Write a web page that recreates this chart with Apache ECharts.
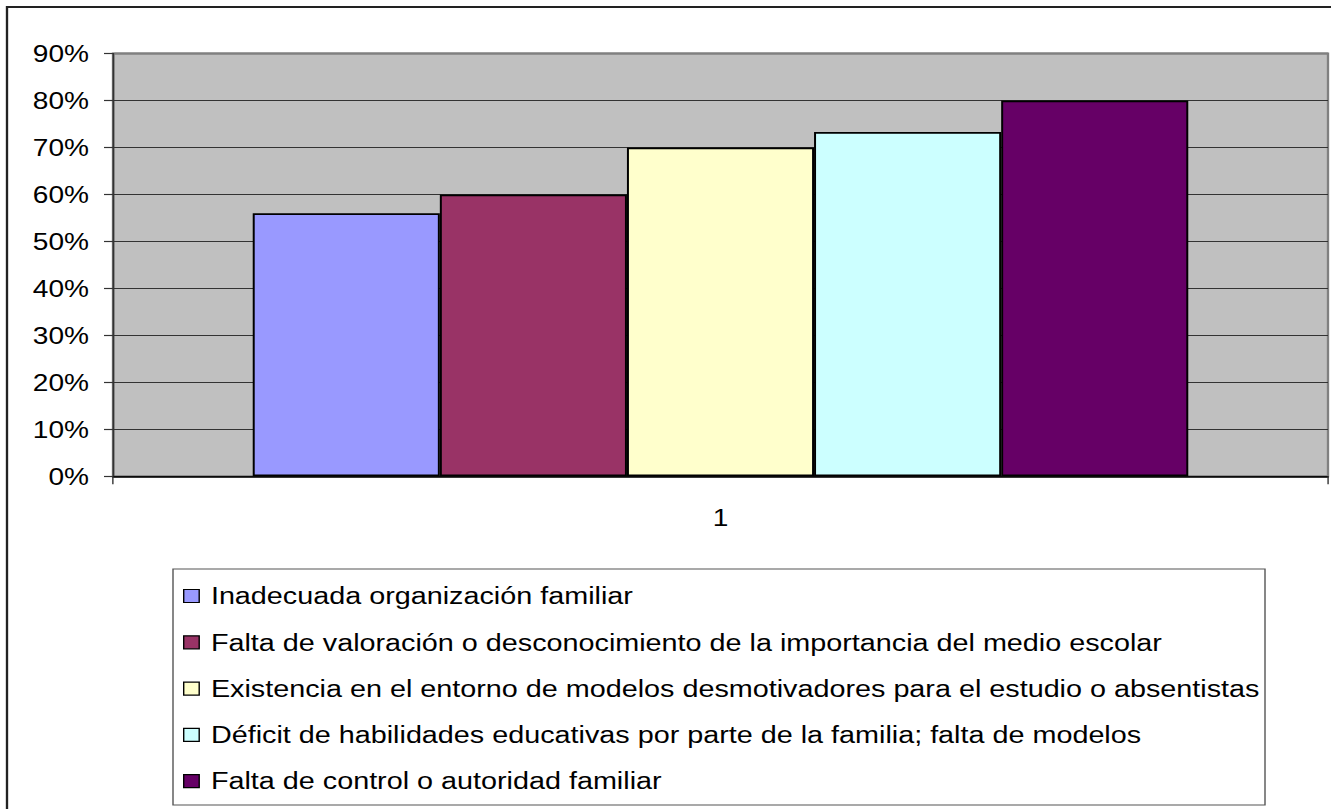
<!DOCTYPE html>
<html>
<head>
<meta charset="utf-8">
<script src="https://cdn.jsdelivr.net/npm/echarts@6/dist/echarts.min.js"></script>
<style>
html,body{margin:0;padding:0;background:#fff;overflow:hidden;}
#wrap{width:1331px;height:809px;overflow:hidden;position:relative;}
#chart{width:1138px;height:809px;transform:scaleX(1.16960);transform-origin:0 0;}
</style>
</head>
<body>
<div id="wrap"><div id="chart"></div></div>
<script>
// ---- data ----
const categories = ['1'];
const seriesNames = [
  'Inadecuada organización familiar',
  'Falta de valoración o desconocimiento de la importancia del medio escolar',
  'Existencia en el entorno de modelos desmotivadores para el estudio o absentistas',
  'Déficit de habilidades educativas por parte de la familia; falta de modelos',
  'Falta de control o autoridad familiar'
];
const seriesValues = [56, 60, 70, 73.3, 80];
const seriesColors = ['#9999FF', '#993366', '#FFFFCC', '#CCFFFF', '#660066'];
const yTicks = { min: 0, max: 90, interval: 10 };

const SX = 1331 / 1138;
const px = v => v / SX; // page x -> chart x

const chart = echarts.init(document.getElementById('chart'), null, { renderer: 'svg' });
const font = '"Liberation Sans", Arial, sans-serif';

const gridLeft = px(113), gridRightEdge = px(1328), gridTop = 53.5;

const option = {
  backgroundColor: '#fff',
  animation: false,
  grid: {
    left: gridLeft, right: 1138 - gridRightEdge, top: gridTop, bottom: 809 - 476.3,
    show: true, backgroundColor: '#C0C0C0', borderColor: '#808080', borderWidth: 2,
    containLabel: false
  },
  xAxis: {
    type: 'category',
    data: categories,
    axisLine: { show: true, lineStyle: { color: '#000', width: 1.5 } },
    axisTick: { show: true, length: 8, lineStyle: { color: '#333', width: 1.2 } },
    axisLabel: { margin: 29, fontFamily: font, fontSize: 24, color: '#000' },
    splitLine: { show: false }
  },
  yAxis: {
    type: 'value',
    min: yTicks.min, max: yTicks.max, interval: yTicks.interval,
    axisLine: { show: true, lineStyle: { color: '#333', width: 1.5 } },
    axisTick: { show: true, length: px(9), lineStyle: { color: '#333', width: 1.2 } },
    axisLabel: { margin: px(24), fontFamily: font, fontSize: 24, color: '#000',
      formatter: v => v + '%' },
    splitLine: { show: true, lineStyle: { color: '#333', width: 1 } }
  },
  legend: {
    orient: 'vertical',
    left: px(183), top: 583,
    padding: 0,
    itemWidth: px(15.5), itemHeight: 13,
    itemGap: 20.3,
    icon: 'rect',
    selectedMode: false,
    textStyle: { fontFamily: font, fontSize: 24.6, color: '#000', lineHeight: 26, padding: [0, 0, 0, 5] },
    data: seriesNames.map((n, i) => ({ name: n, itemStyle: { color: seriesColors[i], borderColor: '#000', borderWidth: 1.2 } }))
  },
  graphic: [
    { type: 'rect', z: -10, shape: { x: px(7), y: 7, width: 1300, height: 900 },
      style: { fill: 'none', stroke: '#222', lineWidth: 2 } },
    { type: 'rect', z: -5, shape: { x: px(173), y: 569, width: px(1265) - px(173), height: 236 },
      style: { fill: '#fff', stroke: '#555', lineWidth: 1.2 } },
    { type: 'line', z: 50, shape: { x1: gridLeft + 1, y1: gridTop, x2: gridRightEdge, y2: gridTop },
      style: { stroke: '#808080', lineWidth: 2 } }
  ],
  series: seriesNames.map((n, i) => ({
    name: n,
    type: 'bar',
    barGap: '0%',
    barCategoryGap: '23%',
    data: [seriesValues[i]],
    itemStyle: { color: seriesColors[i], borderColor: '#000', borderWidth: 1.7 }
  }))
};
chart.setOption(option);
</script>
</body>
</html>
